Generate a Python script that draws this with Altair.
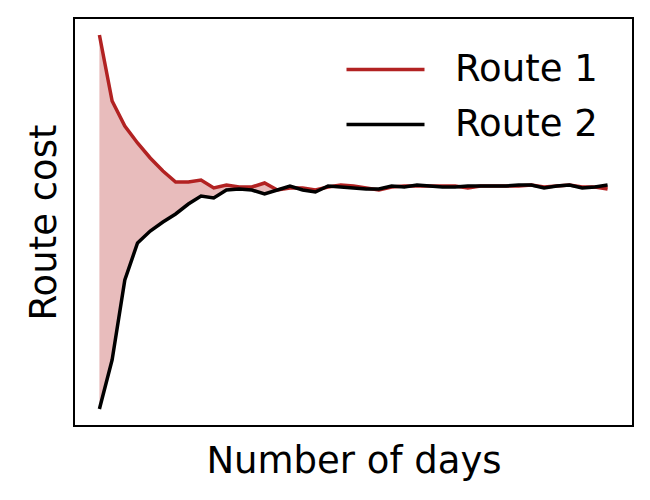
import altair as alt
import pandas as pd

days = list(range(41))
route1 = [392, 326, 301, 284, 269, 256, 245, 245, 247, 239, 242, 240, 240, 244, 237, 239, 239, 237, 240, 242,
          241, 239, 237, 240, 241, 241, 241, 241, 241, 239, 241, 241, 241, 241, 242, 240, 241, 242, 240, 240, 238]
route2 = [18, 67, 147, 184, 196, 205, 213, 223, 231, 229, 237, 238, 237, 233, 237, 241, 237, 235, 241, 240,
          239, 238, 238, 241, 240, 242, 241, 240, 240, 241, 241, 241, 241, 242, 242, 239, 241, 242, 239, 240, 242]
routes = ["Route 1", "Route 2"]
colors = ["#b22222", "#000000"]

df = pd.DataFrame({"day": days, "Route 1": route1, "Route 2": route2})

FONT = "DejaVu Sans"
FS = 37
xs = alt.Scale(domain=[-2, 42], nice=False, zero=False)
ys = alt.Scale(domain=[1, 409], nice=False, zero=False)

area = alt.Chart(df).mark_area(color="#b22222", opacity=0.3).encode(
    x=alt.X("day:Q", scale=xs, title="Number of days",
            axis=alt.Axis(ticks=False, labels=False, domain=False, grid=False,
                          titleFontSize=FS, titleFont=FONT, titleFontWeight="normal",
                          titleColor="black", titlePadding=17)),
    y=alt.Y("Route 1:Q", scale=ys, title="Route cost",
            axis=alt.Axis(ticks=False, labels=False, domain=False, grid=False,
                          titleFontSize=FS, titleFont=FONT, titleFontWeight="normal",
                          titleColor="black", titlePadding=11)),
    y2="Route 2:Q",
)

lines = alt.Chart(df).transform_fold(routes, as_=["route", "cost"]).mark_line(strokeWidth=3.5).encode(
    x=alt.X("day:Q", scale=xs),
    y=alt.Y("cost:Q", scale=ys),
    color=alt.Color("route:N", scale=alt.Scale(domain=routes, range=colors),
                    legend=alt.Legend(title=None, orient="none", legendX=290, legendY=30,
                                      symbolType="M-2,0H2", symbolSize=1521, symbolStrokeWidth=3.5,
                                      labelFontSize=FS, labelFont=FONT, labelColor="black",
                                      labelOffset=48, rowPadding=15)),
)

chart = alt.layer(area, lines).properties(
    width=559, height=408,
    background="white",
    padding={"left": 17, "top": 10, "right": 5, "bottom": 5},
).configure_view(stroke="black", strokeWidth=2)

chart.save("out.html", embed_options={"renderer": "svg", "actions": False})
